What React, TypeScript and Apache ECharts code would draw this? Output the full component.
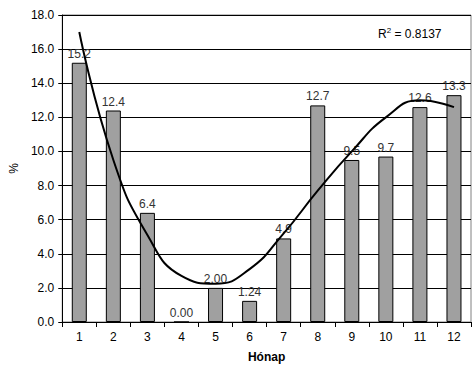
import React, { useEffect, useRef } from "react";
import * as echarts from "echarts";

const months = ["1", "2", "3", "4", "5", "6", "7", "8", "9", "10", "11", "12"];
const values = [15.2, 12.4, 6.4, 0.0, 2.0, 1.24, 4.9, 12.7, 9.5, 9.7, 12.6, 13.3];
const valueLabels = ["15.2", "12.4", "6.4", "0.00", "2.00", "1.24", "4.9", "12.7", "9.5", "9.7", "12.6", "13.3"];
// trend curve at each month
const trendX = [1, 2, 3, 4, 5, 6, 7, 8, 9, 10, 11, 12];
const trendY = [17.0, 9.5, 5.1, 2.7, 2.25, 3.1, 5.2, 7.7, 10.0, 12.0, 13.0, 12.6];
const rSquared = "0.8137";

const FONT = "Liberation Sans, Arial, sans-serif";

export default function App() {
  const ref = useRef<HTMLDivElement>(null);
  useEffect(() => {
    if (!ref.current) return;
    const chart = echarts.init(ref.current, undefined, { renderer: "svg" });
    chart.setOption({
      animation: false,
      backgroundColor: "#ffffff",
      textStyle: { fontFamily: FONT },
      grid: {
        left: 58,
        right: 5,
        top: 15,
        bottom: 48,
        show: true,
        borderColor: "#808080",
        borderWidth: 1,
        backgroundColor: "transparent",
      },
      xAxis: [
        {
          type: "category",
          data: months,
          name: "Hónap",
          nameLocation: "middle",
          nameGap: 29,
          nameTextStyle: { fontFamily: FONT, fontSize: 12, fontWeight: "bold", color: "#000" },
          axisLine: { lineStyle: { color: "#000", width: 1 } },
          axisTick: { show: true, length: 5, lineStyle: { color: "#000" } },
          axisLabel: { color: "#000", fontSize: 12, fontFamily: FONT, margin: 9 },
        },
        {
          type: "value",
          min: 0.5,
          max: 12.5,
          show: false,
        },
      ],
      yAxis: {
        type: "value",
        min: 0,
        max: 18,
        interval: 2,
        name: "%",
        nameLocation: "middle",
        nameRotate: 90,
        nameGap: 38,
        nameTextStyle: { fontFamily: FONT, fontSize: 12, color: "#000" },
        axisLine: { show: true, lineStyle: { color: "#000", width: 1 } },
        axisTick: { show: true, length: 4, lineStyle: { color: "#000" } },
        axisLabel: {
          color: "#000",
          fontSize: 12,
          fontFamily: FONT,
          margin: 8,
          formatter: (v: number) => v.toFixed(1),
        },
        splitLine: { show: true, lineStyle: { color: "#000", width: 1 } },
      },
      series: [
        {
          type: "bar",
          xAxisIndex: 0,
          data: values,
          barWidth: 15,
          itemStyle: { color: "#a0a0a0", borderColor: "#000", borderWidth: 1 },
          label: {
            show: true,
            position: "top",
            distance: 3,
            color: "#333333",
            textBorderWidth: 0,
            textBorderColor: "transparent",
            fontSize: 12,
            fontFamily: FONT,
            formatter: (p: any) => valueLabels[p.dataIndex],
          },
          labelLayout: { hideOverlap: false },
          emphasis: { disabled: true },
          z: 2,
        },
        {
          type: "line",
          xAxisIndex: 1,
          data: trendX.map((x, i) => [x, trendY[i]]),
          smooth: 0.5,
          symbol: "none",
          lineStyle: { color: "#000", width: 2 },
          emphasis: { disabled: true },
          z: 3,
        },
      ],
      graphic: [
        {
          type: "text",
          left: 378,
          top: 26,
          style: {
            text: "{r|R}{s|2}{r| = " + rSquared + "}",
            rich: {
              r: { fontFamily: FONT, fontSize: 12, fill: "#000", verticalAlign: "bottom" },
              s: { fontFamily: FONT, fontSize: 8, fill: "#000", verticalAlign: "top", padding: [0, 0, 6, 0] },
            },
          },
        },
      ],
    });
    return () => chart.dispose();
  }, []);
  return (
    <div
      ref={ref}
      style={{ position: "fixed", left: 0, top: 0, width: 476, height: 370 }}
    />
  );
}
